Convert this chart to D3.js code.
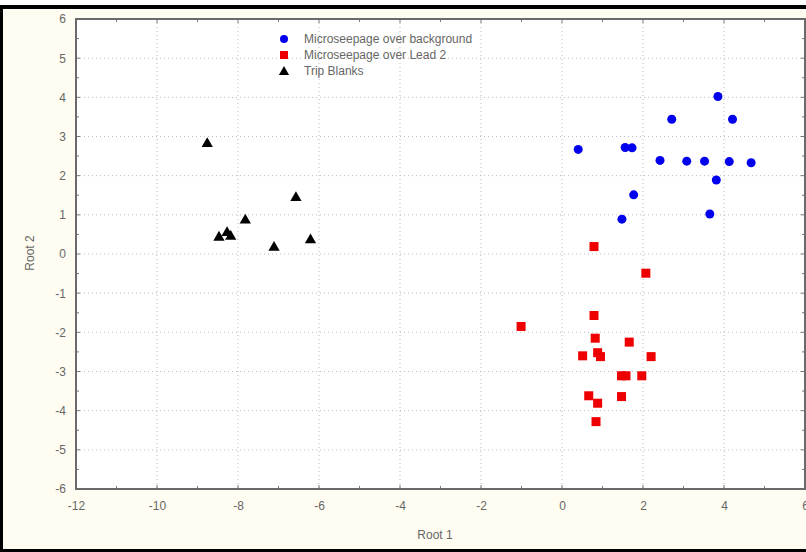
<!DOCTYPE html>
<html lang="en">
  <head>
    <meta charset="utf-8">
    <title>Root 1 vs Root 2</title>
    <script src="https://d3js.org/d3.v7.min.js"></script>
    <style>
      body { margin: 0; background: #fff; }
      text { font-family: "Liberation Sans", Arial, sans-serif; fill: #666; }
      .grid line { stroke: #bbb; stroke-width: 1px; stroke-dasharray: 1,3; }
      .frame { stroke: #6a6a6a; stroke-width: 2px; fill: none; }
      .tick-mark { stroke: #777; stroke-width: 1px; }
    </style>
  </head>
  <body>
    <svg id="chart" width="806" height="552" xmlns="http://www.w3.org/2000/svg"></svg>
    <script>
      // group 1: Microseepage over background
      let bgX = [0.40, 1.56, 1.73, 2.71, 3.85, 4.21, 2.42, 3.08, 3.52, 4.13, 4.67, 3.81, 1.77, 1.48, 3.65];
      let bgY = [2.67, 2.72, 2.71, 3.44, 4.02, 3.44, 2.39, 2.37, 2.37, 2.36, 2.33, 1.89, 1.51, 0.89, 1.02];
      // group 2: Microseepage over Lead 2
      let leadX = [0.79, 2.07, -1.01, 0.79, 0.82, 1.66, 0.51, 0.88, 0.95, 2.20, 1.47, 1.58, 1.97, 0.66, 0.88, 1.47, 0.84];
      let leadY = [0.19, -0.49, -1.85, -1.57, -2.15, -2.25, -2.60, -2.52, -2.62, -2.62, -3.11, -3.11, -3.11, -3.62, -3.81, -3.64, -4.28];
      // group 3: Trip Blanks
      let tripX = [-8.76, -6.57, -7.82, -8.47, -8.27, -8.18, -7.11, -6.21];
      let tripY = [2.84, 1.46, 0.89, 0.45, 0.57, 0.47, 0.19, 0.38];

      let xTicks = [-12, -10, -8, -6, -4, -2, 0, 2, 4, 6];
      let yTicks = [-6, -5, -4, -3, -2, -1, 0, 1, 2, 3, 4, 5, 6];
      let legendLabels = ['Microseepage over background', 'Microseepage over Lead 2', 'Trip Blanks'];

      let pLeft = 76, pRight = 805, pTop = 19, pBottom = 489;
      let xScale = d3.scaleLinear().domain([-12, 6]).range([pLeft, pRight]);
      let yScale = d3.scaleLinear().domain([-6, 6]).range([pBottom, pTop]);
      let plain = function(d){ return String(d); };

      let svg = d3.select('#chart');

      // page background and black border
      svg.append('rect').attr('x', 0).attr('y', 0).attr('width', 806).attr('height', 552).attr('fill', '#fff');
      svg.append('rect').attr('x', 0).attr('y', 5).attr('width', 806).attr('height', 547).attr('fill', '#fffdf2');
      svg.append('rect').attr('x', 0).attr('y', 5).attr('width', 806).attr('height', 4).attr('fill', '#000');
      svg.append('rect').attr('x', 0).attr('y', 5).attr('width', 3).attr('height', 547).attr('fill', '#000');
      svg.append('rect').attr('x', 0).attr('y', 549).attr('width', 806).attr('height', 3).attr('fill', '#000');

      // plot area
      svg.append('rect').attr('x', pLeft).attr('y', pTop)
        .attr('width', pRight - pLeft).attr('height', pBottom - pTop).attr('fill', '#fff');

      // grid
      let grid = svg.append('g').attr('class', 'grid');
      grid.selectAll('.gx').data(xTicks.slice(1, -1)).join('line')
        .attr('class', 'gx')
        .attr('x1', function(d){return xScale(d)}).attr('x2', function(d){return xScale(d)})
        .attr('y1', pTop).attr('y2', pBottom);
      grid.selectAll('.gy').data(yTicks.slice(1, -1)).join('line')
        .attr('class', 'gy')
        .attr('y1', function(d){return yScale(d)}).attr('y2', function(d){return yScale(d)})
        .attr('x1', pLeft).attr('x2', pRight);

      // tick labels
      let xAxisB = d3.axisBottom(xScale).tickValues(xTicks).tickFormat(plain).tickSize(0).tickPadding(12);
      svg.append('g').attr('transform', 'translate(0,' + pBottom + ')').call(xAxisB)
        .call(function(g){ g.select('.domain').remove(); })
        .selectAll('text').attr('font-size', 12).style('font-family', '"Liberation Sans", Arial, sans-serif');
      let yAxisL = d3.axisLeft(yScale).tickValues(yTicks).tickFormat(plain).tickSize(0).tickPadding(10);
      svg.append('g').attr('transform', 'translate(' + pLeft + ',0)').call(yAxisL)
        .call(function(g){ g.select('.domain').remove(); })
        .selectAll('text').attr('font-size', 12).style('font-family', '"Liberation Sans", Arial, sans-serif');

      // tick marks inward on all four sides
      let xMinor = d3.range(-12, 6.01, 1);
      let yMinor = d3.range(-6, 6.01, 0.5);
      let marks = svg.append('g');
      xMinor.forEach(function(v) {
        let len = (v % 2 === 0) ? 4 : 3;
        marks.append('line').attr('class', 'tick-mark')
          .attr('x1', xScale(v)).attr('x2', xScale(v)).attr('y1', pBottom).attr('y2', pBottom - len);
        marks.append('line').attr('class', 'tick-mark')
          .attr('x1', xScale(v)).attr('x2', xScale(v)).attr('y1', pTop).attr('y2', pTop + len);
      });
      yMinor.forEach(function(v) {
        let len = (v % 1 === 0) ? 4 : 3;
        marks.append('line').attr('class', 'tick-mark')
          .attr('y1', yScale(v)).attr('y2', yScale(v)).attr('x1', pLeft).attr('x2', pLeft + len);
        marks.append('line').attr('class', 'tick-mark')
          .attr('y1', yScale(v)).attr('y2', yScale(v)).attr('x1', pRight).attr('x2', pRight - len);
      });

      svg.append('rect').attr('class', 'frame').attr('x', pLeft).attr('y', pTop)
        .attr('width', pRight - pLeft).attr('height', pBottom - pTop);

      // axis titles
      svg.append('text').attr('x', 435).attr('y', 539)
        .attr('text-anchor', 'middle').attr('font-size', 12).text('Root 1');
      svg.append('text').attr('transform', 'translate(34,253) rotate(-90)')
        .attr('text-anchor', 'middle').attr('font-size', 12).text('Root 2');

      // points
      let bg = bgX.map(function(x, i){ return {x: x, y: bgY[i]}; });
      let lead = leadX.map(function(x, i){ return {x: x, y: leadY[i]}; });
      let trip = tripX.map(function(x, i){ return {x: x, y: tripY[i]}; });

      svg.append('g').selectAll('circle').data(bg).join('circle')
        .attr('cx', function(d){return xScale(d.x)}).attr('cy', function(d){return yScale(d.y)})
        .attr('r', 4.5).attr('fill', '#0000ee');
      svg.append('g').selectAll('rect').data(lead).join('rect')
        .attr('x', function(d){return xScale(d.x) - 4.5}).attr('y', function(d){return yScale(d.y) - 4.5})
        .attr('width', 9).attr('height', 9).attr('fill', '#ee0000');
      let tri = d3.symbol().type(d3.symbolTriangle).size(55);
      svg.append('g').selectAll('path').data(trip).join('path')
        .attr('transform', function(d){return 'translate(' + xScale(d.x) + ',' + (yScale(d.y) + 1) + ')'})
        .attr('d', tri).attr('fill', '#000');

      // legend
      let legend = svg.append('g').attr('transform', 'translate(284,39)');
      legend.append('circle').attr('cx', 0).attr('cy', 0).attr('r', 4).attr('fill', '#0000ee');
      legend.append('rect').attr('x', -4).attr('y', 12).attr('width', 8).attr('height', 8).attr('fill', '#ee0000');
      legend.append('path').attr('transform', 'translate(0,33)').attr('d', d3.symbol().type(d3.symbolTriangle).size(45)).attr('fill', '#000');
      legend.selectAll('text').data(legendLabels).join('text')
        .attr('x', 20).attr('y', function(d, i){return i * 16 + 4})
        .attr('font-size', 12).attr('fill', '#555').text(function(d){return d});
    </script>
  </body>
</html>
